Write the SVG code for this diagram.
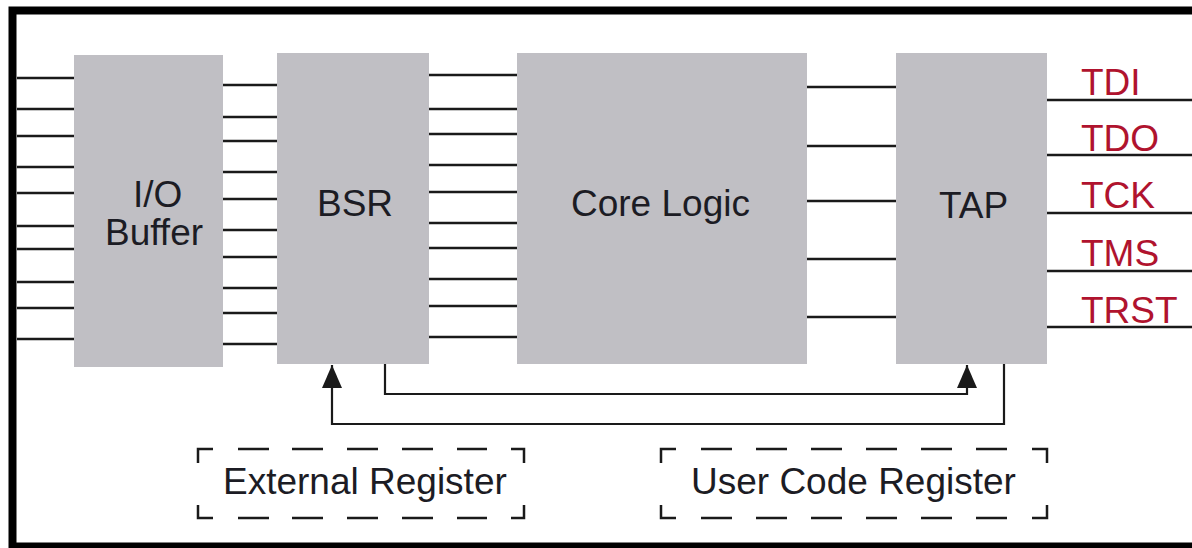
<svg xmlns="http://www.w3.org/2000/svg" width="1192" height="548" viewBox="0 0 1192 548">
  <style>
    .block { fill: #c0bfc4; }
    .wire { stroke: #1a1a1a; stroke-width: 2.5; fill: none; }
    .link { stroke: #1a1a1a; stroke-width: 2.2; fill: none; }
    .dash { stroke: #1a1a1a; stroke-width: 2.5; fill: none; }
    .label { font-family: "Liberation Sans", Arial, sans-serif; font-size: 37px; fill: #1c1c24; }
    .pin { font-family: "Liberation Sans", Arial, sans-serif; font-size: 37px; fill: #b0132e; }
  </style>
  <defs>
    <!-- filled arrowhead, tip at the end of the path -->
    <marker id="arrow" markerUnits="userSpaceOnUse" markerWidth="24" markerHeight="22" refX="23" refY="11" orient="auto" viewBox="0 0 24 22">
      <path d="M0,1 L23,11 L0,21 Z" fill="#1a1a1a"/>
    </marker>
  </defs>

  <rect width="1192" height="548" fill="#ffffff"/>

  <!-- outer chip outline -->
  <rect x="12.5" y="10.5" width="1200" height="536" fill="none" stroke="#000" stroke-width="8"/>

  <g id="connectors">
    <!-- pads to I/O buffer -->
    <path class="wire" d="M17,78 H74 M17,109 H74 M17,136 H74 M17,167 H74 M17,193 H74 M17,226 H74 M17,249 H74 M17,282 H74 M17,308 H74 M17,339 H74"/>
    <!-- I/O buffer to BSR -->
    <path class="wire" d="M223,85 H277 M223,117 H277 M223,141 H277 M223,172 H277 M223,199 H277 M223,230 H277 M223,257 H277 M223,288 H277 M223,313 H277 M223,344 H277"/>
    <!-- BSR to core logic -->
    <path class="wire" d="M429,75 H517 M429,109 H517 M429,134 H517 M429,165 H517 M429,192 H517 M429,223 H517 M429,248 H517 M429,279 H517 M429,306 H517 M429,337 H517"/>
    <!-- core logic to TAP -->
    <path class="wire" d="M807,87 H896 M807,146 H896 M807,201 H896 M807,259 H896 M807,317 H896"/>
    <!-- TAP pins -->
    <path class="wire" d="M1047,100 H1192 M1047,155 H1192 M1047,213 H1192 M1047,271 H1192 M1047,327 H1192"/>
    <!-- BSR to TAP -->
    <path class="link" d="M385,364 V394 H967 V365" marker-end="url(#arrow)"/>
    <!-- TAP to BSR -->
    <path class="link" d="M1004,364 V424 H332 V365" marker-end="url(#arrow)"/>
  </g>

  <g id="io-buffer">
    <rect class="block" x="74" y="55" width="149" height="312"/>
    <text class="label" x="133" y="207">I/O</text>
    <text class="label" x="105" y="245">Buffer</text>
  </g>

  <g id="bsr">
    <rect class="block" x="277" y="53" width="152" height="311"/>
    <text class="label" x="317" y="216">BSR</text>
  </g>

  <g id="core-logic">
    <rect class="block" x="517" y="53" width="290" height="311"/>
    <text class="label" x="571" y="216">Core Logic</text>
  </g>

  <g id="tap">
    <rect class="block" x="896" y="53" width="151" height="311"/>
    <text class="label" x="939" y="218">TAP</text>
  </g>

  <g id="tap-pins">
    <text class="pin" x="1081" y="95">TDI</text>
    <text class="pin" x="1081" y="151">TDO</text>
    <text class="pin" x="1081" y="208">TCK</text>
    <text class="pin" x="1081" y="266">TMS</text>
    <text class="pin" x="1081" y="323">TRST</text>
  </g>

  <g id="external-register">
    <path class="dash" d="M213,449 H198 V463 M198,505 V518 H213 M511,449 H524 V463 M524,505 V518 H511
      M238,449 H269 M292,449 H323 M347,449 H378 M402,449 H433 M457,449 H487
      M238,518 H269 M292,518 H323 M347,518 H378 M402,518 H433 M457,518 H487"/>
    <text class="label" x="223" y="494">External Register</text>
  </g>

  <g id="user-code-register">
    <path class="dash" d="M676,449 H661 V463 M661,505 V518 H676 M1032,449 H1047 V463 M1047,505 V518 H1032
      M701,449 H732 M756,449 H787 M811,449 H842 M866,449 H897 M921,449 H952 M976,449 H1007
      M701,518 H732 M756,518 H787 M811,518 H842 M866,518 H897 M921,518 H952 M976,518 H1007"/>
    <text class="label" x="691" y="494">User Code Register</text>
  </g>
</svg>
